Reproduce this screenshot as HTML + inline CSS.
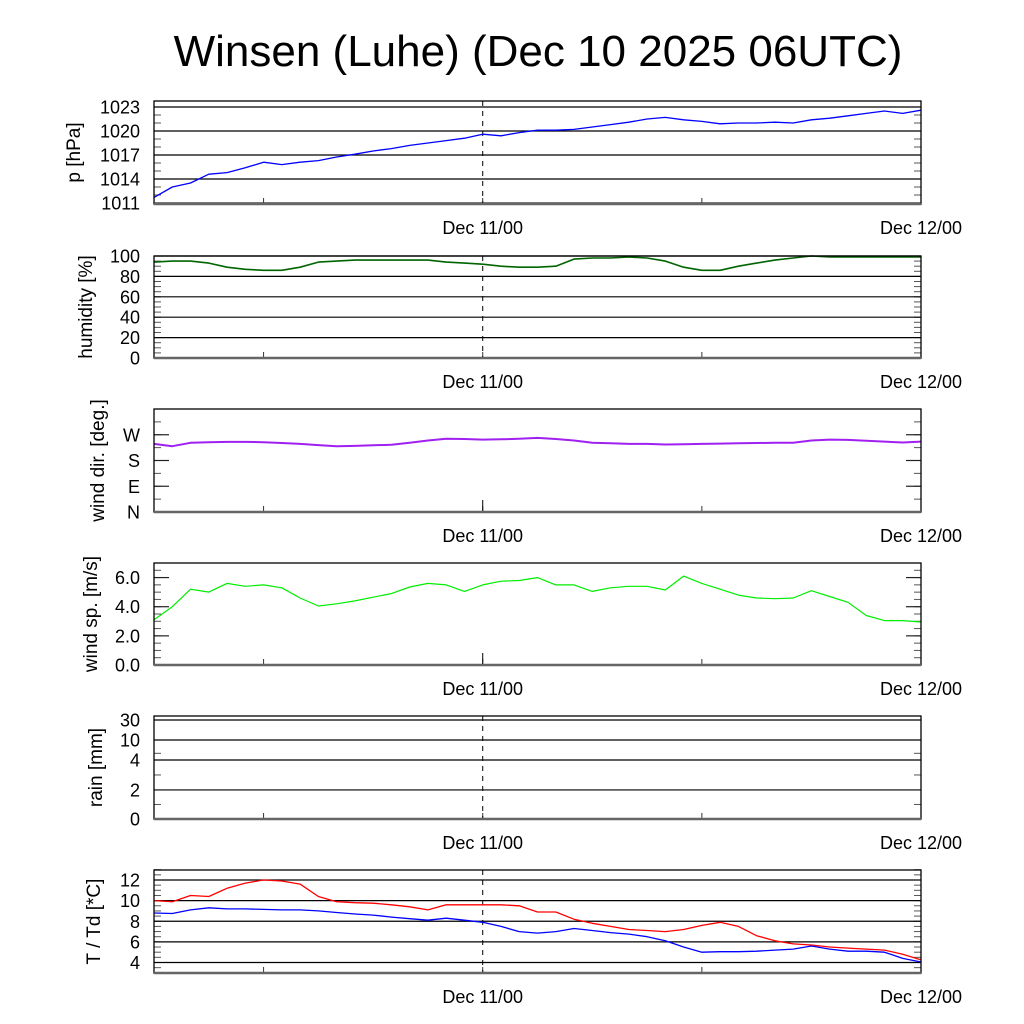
<!DOCTYPE html>
<html><head><meta charset="utf-8"><style>
html,body{margin:0;padding:0;background:#fff;}
svg{display:block;font-family:"Liberation Sans",sans-serif;}
</style></head><body>
<svg id="chart" width="1024" height="1024" viewBox="0 0 1024 1024">
<rect width="1024" height="1024" fill="#fff"/>
<text x="538" y="66" font-size="44" text-anchor="middle">Winsen (Luhe) (Dec 10 2025 06UTC)</text>
</svg>
<script>
// hours since Dec 10 06UTC, 0..42
const hours = [0,1,2,3,4,5,6,7,8,9,10,11,12,13,14,15,16,17,18,19,20,21,22,23,24,25,26,27,28,29,30,31,32,33,34,35,36,37,38,39,40,41,42];
const pressure = [1011.7,1013.0,1013.5,1014.6,1014.8,1015.4,1016.1,1015.8,1016.1,1016.3,1016.75,1017.1,1017.5,1017.8,1018.2,1018.5,1018.8,1019.1,1019.6,1019.4,1019.8,1020.1,1020.1,1020.2,1020.5,1020.8,1021.1,1021.5,1021.7,1021.4,1021.2,1020.9,1021.0,1021.0,1021.1,1021.0,1021.4,1021.6,1021.9,1022.2,1022.5,1022.2,1022.6];
const humidity = [94,95,95,93,89,87,86,86,89,94,95,96,96,96,96,96,94,93,92,90,89,89,90,97,98,98,99,98,95,89,86,86,90,93,96,98,100,99,99,99,99,99,99];
const windDir = [238,230,242,244,245,245,244,241,238,234,230,231,233,235,242,250,256,255,253,254,256,259,255,250,242,240,238,238,236,237,238,239,240,241,242,242,250,253,252,249,246,243,246];
const windSpeed = [3.1,4.0,5.2,5.0,5.6,5.4,5.5,5.3,4.6,4.05,4.2,4.4,4.65,4.9,5.35,5.6,5.5,5.05,5.5,5.75,5.8,6.0,5.5,5.5,5.05,5.3,5.4,5.4,5.15,6.1,5.6,5.2,4.8,4.6,4.55,4.6,5.1,4.7,4.3,3.4,3.05,3.05,2.95];
const rain = [0,0,0,0,0,0,0,0,0,0,0,0,0,0,0,0,0,0,0,0,0,0,0,0,0,0,0,0,0,0,0,0,0,0,0,0,0,0,0,0,0,0,0];
const temperature = [10.0,9.9,10.5,10.4,11.2,11.7,12.0,11.9,11.6,10.4,9.9,9.8,9.75,9.6,9.4,9.1,9.6,9.6,9.6,9.6,9.5,8.9,8.9,8.2,7.8,7.5,7.2,7.1,7.0,7.2,7.6,7.9,7.5,6.6,6.1,5.8,5.7,5.5,5.4,5.3,5.2,4.8,4.25];
const dewpoint = [8.8,8.75,9.1,9.3,9.2,9.2,9.15,9.1,9.1,9.0,8.85,8.7,8.6,8.4,8.25,8.1,8.3,8.1,7.9,7.5,7.0,6.85,7.0,7.3,7.1,6.9,6.75,6.5,6.1,5.5,5.0,5.05,5.05,5.1,5.2,5.3,5.6,5.3,5.1,5.1,5.0,4.4,4.05];
const xTickLabels = ["Dec 11/00","Dec 12/00"];
const xTickHours = [18,42];
const pTicks = [1011,1014,1017,1020,1023];
const hTicks = [0,20,40,60,80,100];
const dTicks = [0,90,180,270];
const dTickLabels = ["N","E","S","W"];
const sTicks = [0,2,4,6];
const sTickLabels = ["0.0","2.0","4.0","6.0"];
const rTicks = [0,2,4,10,30];
const tTicks = [4,6,8,10,12];

const svg = document.getElementById('chart');
const NS = 'http://www.w3.org/2000/svg';
const X0 = 154, X1 = 921;
function xs(h){ return X0 + h * (X1 - X0) / 42; }
function mk(tag, attrs, parent){ const e = document.createElementNS(NS, tag); for (const k in attrs) e.setAttribute(k, attrs[k]); (parent||svg).appendChild(e); return e; }
// v0 maps to yv0, v1 maps to yv1
function linScale(v0, v1, yv0, yv1){ return v => yv0 + (v - v0) * (yv1 - yv0) / (v1 - v0); }
function rainScale(top, bot){ const pv=[0,2,4,10,30,40], pf=[0,0.282,0.573,0.767,0.961,1.0];
  return v => { for (let i=0;i<pv.length-1;i++){ if (v<=pv[i+1]){ const f=pf[i]+(v-pv[i])/(pv[i+1]-pv[i])*(pf[i+1]-pf[i]); return bot - f*(bot-top);} } return top; }; }

function panel(o){
  const g = mk('g', {});  
  const y = o.scale;
  for (const v of o.minor){ const yy = y(v);
    mk('line',{x1:X0,x2:X0+7,y1:yy,y2:yy,stroke:'#555','stroke-width':1},g);
    mk('line',{x1:X1-7,x2:X1,y1:yy,y2:yy,stroke:'#555','stroke-width':1},g); }
  o.ticks.forEach((v,i)=>{ const yy=y(v);
    if (o.grid){ const gl = mk('line',{x1:X0,x2:X1,y1:yy,y2:yy,stroke:'#000','stroke-width':1.2},g);   }
    else { mk('line',{x1:X0,x2:X0+15,y1:yy,y2:yy,stroke:'#222','stroke-width':1.2},g); mk('line',{x1:X1-15,x2:X1,y1:yy,y2:yy,stroke:'#222','stroke-width':1.2},g); }
    const t = mk('text',{x:140,y:yy+6.5,'font-size':18,'text-anchor':'end'},g); t.textContent = o.labels ? o.labels[i] : v;
      });
  for (const h of [6,18,30]){ mk('line',{x1:xs(h),x2:xs(h),y1:o.bot,y2:o.bot-6,stroke:'#333','stroke-width':1},g); }
  if (o.dash){ const d = mk('line',{x1:xs(18),x2:xs(18),y1:o.top,y2:o.bot,stroke:'#000','stroke-width':1,'stroke-dasharray':'5,5'},g);   }
  else { mk('line',{x1:xs(18),x2:xs(18),y1:o.bot,y2:o.bot-12,stroke:'#000','stroke-width':1},g); }
  o.series.forEach(s=>{ const p = mk('polyline',{points:hours.map((h,i)=>xs(h).toFixed(1)+','+y(s.data[i]).toFixed(1)).join(' '),fill:'none',stroke:s.color,'stroke-width':s.w||1.3,'stroke-linejoin':'round'},g);
      });
  mk('rect',{x:X0,y:o.top,width:X1-X0,height:o.bot-o.top,fill:'none',stroke:'#000','stroke-width':1.3},g);
  mk('line',{x1:X0,x2:X1,y1:o.bot,y2:o.bot,stroke:'#666','stroke-width':2.5},g);
  xTickLabels.forEach((lab,i)=>{ const t = mk('text',{x:xs(xTickHours[i]),y:o.bot+30,'font-size':18,'text-anchor':'middle'},g); t.textContent = lab;
      });
  const cy = (o.top+o.bot)/2;
  const yt = mk('text',{x:o.tx,y:cy,'font-size':19,'text-anchor':'middle',transform:'rotate(-90 '+o.tx+' '+cy+')'},g); yt.textContent = o.title;
   
}
function range(a,b,s){ const r=[]; for(let v=a; v<=b+1e-9; v+=s) r.push(+v.toFixed(3)); return r; }

panel({name:'pressure',top:101,bot:204,scale:linScale(1011,1023,203,107),ticks:pTicks,minor:range(1011,1023,1),grid:true,dash:true,
  series:[{name:'pressure-line',data:pressure,color:'#0000ff'}],title:'p [hPa]',tx:80});
panel({name:'humidity',top:256,bot:358,scale:linScale(0,100,358,256),ticks:hTicks,minor:range(0,100,5),grid:true,dash:true,
  series:[{name:'humidity-line',data:humidity,color:'#006400',w:1.6}],title:'humidity [%]',tx:92});
panel({name:'wind-direction',top:409,bot:512,scale:linScale(0,360,512,409),ticks:dTicks,labels:dTickLabels,minor:range(0,360,45),grid:false,dash:false,
  series:[{name:'wind-direction-line',data:windDir,color:'#a020f0',w:2}],title:'wind dir. [deg.]',tx:104});
panel({name:'wind-speed',top:563,bot:665,scale:linScale(0,7,665,563),ticks:sTicks,labels:sTickLabels,minor:range(0,7,0.5),grid:false,dash:false,
  series:[{name:'wind-speed-line',data:windSpeed,color:'#00ee00',w:1.2}],title:'wind sp. [m/s]',tx:97});
const rs = rainScale(716,819);
panel({name:'rain',top:716,bot:819,scale:rs,ticks:rTicks,minor:[1,3,6],grid:true,dash:true,
  series:[{name:'rain-line',data:rain,color:'#00008b',w:2}],title:'rain [mm]',tx:102});
panel({name:'temperature',top:870,bot:973,scale:linScale(4,12,962.5,880),ticks:tTicks,minor:range(3,13,0.5),grid:true,dash:true,
  series:[{name:'temperature-line',data:temperature,color:'#ff0000'},{name:'dewpoint-line',data:dewpoint,color:'#0000ff'}],title:'T / Td [*C]',tx:100});
</script>
</body></html>
